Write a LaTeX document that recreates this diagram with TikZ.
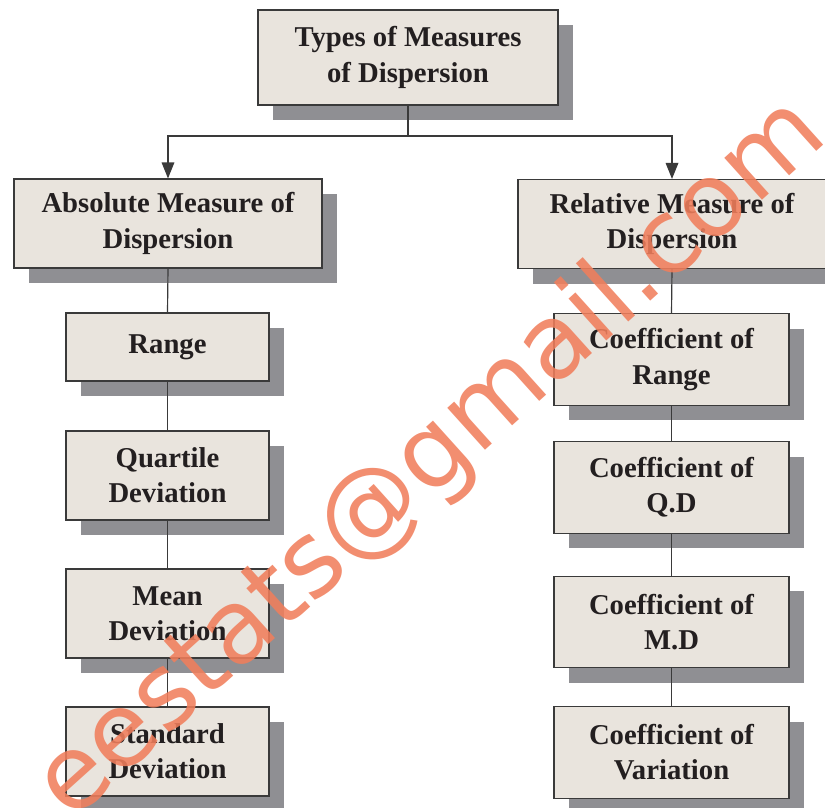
\documentclass[tikz,border=0pt]{standalone}
\usepackage{fontspec}
\setmainfont{Liberation Serif}
\newfontfamily\wmfont{DejaVu Sans}
\usetikzlibrary{arrows.meta,shadows}
\definecolor{Paper}{HTML}{E9E4DD}
\definecolor{Shade}{HTML}{8F8F93}
\definecolor{Ink}{HTML}{231F20}
\definecolor{Rule}{HTML}{3A3A3A}
\definecolor{Stamp}{HTML}{F07E5C}

\begin{document}
\begin{tikzpicture}[
  x=0.03cm,y=-0.03cm,
  every node/.style={font=\bfseries\fontsize{24.5}{30}\selectfont,align=center,text=Ink},
  box/.style={draw=Rule,line width=1pt,fill=Paper,inner sep=0pt,
    drop shadow={shadow xshift=0.45cm,shadow yshift=-0.45cm,fill=Shade,opacity=1}},
  headbox/.style={box,minimum width=9.24cm,minimum height=2.67cm},
  leftbox/.style={box,minimum width=6.09cm,minimum height=2.67cm},
  rightbox/.style={box,minimum width=7.05cm,minimum height=2.75cm},
  link/.style={Rule,line width=1pt},
  arr/.style={-{Triangle[length=0.48cm,width=0.38cm]},line width=1pt,Rule},
  wmark/.style={font=\wmfont\fontsize{88}{88}\selectfont,text=Stamp,text opacity=0.88,rotate=42}
]
  \useasboundingbox (0,0) rectangle (825,807);
  \node[box,minimum width=9cm,minimum height=2.85cm] (types) at (408,57.5) {Types of Measures\\of Dispersion};
  \node[headbox] (abs) at (168,223.5) {Absolute Measure of\\Dispersion};
  \node[headbox] (rel) at (672,224) {Relative Measure of\\Dispersion};
  % absolute measures
  \node[leftbox,minimum height=2.04cm] (range) at (167.5,347) {Range};
  \node[leftbox] (qd) at (167.5,475.5) {Quartile\\Deviation};
  \node[leftbox] (md) at (167.5,613.5) {Mean\\Deviation};
  \node[leftbox] (sd) at (167.5,751.5) {Standard\\Deviation};
  % relative measures
  \node[rightbox] (cr) at (671.5,359.5) {Coefficient of\\Range};
  \node[rightbox] (cqd) at (671.5,487.5) {Coefficient of\\Q.D};
  \node[rightbox] (cmd) at (671.5,622) {Coefficient of\\M.D};
  \node[rightbox] (cv) at (671.5,752.5) {Coefficient of\\Variation};
  \coordinate (split) at (408,136);
  \draw[arr] (types.south) -- (split) -| (abs.north);
  \draw[arr] (split) -| (rel.north);
  \draw[link] (abs.south) -- (range.north);
  \draw[link] (range.south) -- (qd.north);
  \draw[link] (qd.south) -- (md.north);
  \draw[link] (md.south) -- (sd.north);
  \draw[link] (rel.south) -- (cr.north);
  \draw[link] (cr.south) -- (cqd.north);
  \draw[link] (cqd.south) -- (cmd.north);
  \draw[link] (cmd.south) -- (cv.north);
  \node[wmark] (stamp) at (432,460) {eestats@gmail.com};
\end{tikzpicture}
\end{document}
